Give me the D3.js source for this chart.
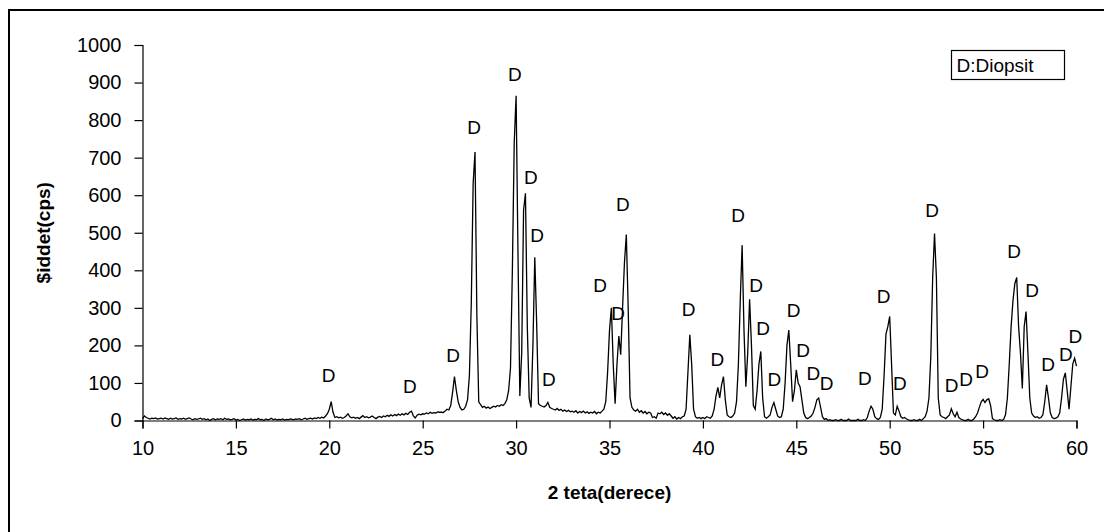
<!DOCTYPE html>
<html>
<head>
<meta charset="utf-8">
<script src="https://cdn.jsdelivr.net/npm/d3@7"></script>
<style>
  body { margin: 0; background: #fff; }
  svg text { font-family: "Liberation Sans", Arial, sans-serif; fill: #000; }
</style>
</head>
<body>
<svg id="chart" width="1104" height="532"></svg>
<script>
// XRD scan, 2theta step 0.1, counts per decade
const scanStep = 0.1;
const counts10 = [
  5, 12, 8, 6, 4, 6, 5, 7, 4, 5,
  6, 4, 7, 5, 3, 6, 4, 5, 7, 3,
  5, 4, 6, 3, 5, 7, 4, 2, 5, 3,
  4, 6, 3, 5, 2, 4, 0, 3, 5, 2,
  4, 3, 5, 2, 6, 3, 4, 2, 3, 5,
  1, 3, 0, 2, 4, 1, 3, 2, 4, 1,
  3, 2, 5, 2, 3, 0, 4, 2, 3, 6,
  2, 4, 1, 3, 2, 4, 1, 3, 2, 4,
  3, 2, 4, 3, 5, 2, 4, 6, 3, 5,
  6, 4, 7, 5, 8, 6, 9, 7, 12, 18
];
const counts20 = [
  30, 50, 22, 8, 10, 7, 9, 6, 8, 12,
  18, 10, 7, 9, 6, 8, 5, 9, 13, 8,
  10, 7, 9, 12, 8, 5, 9, 11, 8, 12,
  10, 14, 11, 15, 12, 16, 13, 17, 14, 18,
  15, 19, 16, 22, 25, 12, 7, 14, 17, 15,
  18, 17, 20, 18, 22, 19, 21, 20, 23, 22,
  22, 21, 25, 30, 28, 40, 75, 117, 80, 50,
  35, 28, 30, 38, 55, 120, 310, 630, 715, 280,
  50, 42, 35, 38, 33, 36, 32, 35, 38, 36,
  40, 38, 42, 40, 45, 55, 80, 140, 400, 740
];
const counts30 = [
  865, 450, 65, 180, 560, 605, 250, 60, 35, 200,
  435, 260, 45, 40, 38, 36, 40, 48, 35, 32,
  30, 28, 32, 27, 30, 25, 28, 24, 27, 23,
  25, 22, 26, 20, 24, 21, 25, 20, 23, 19,
  22, 20, 24, 18, 22, 20, 25, 30, 50, 130,
  240, 300, 150, 45, 150, 225, 175, 300, 420, 495,
  300, 60, 35, 28, 25, 30, 22, 26, 20, 24,
  18, 22, 20, 8, 10, 6, 20, 18, 22, 16,
  20, 14, 18, 12, 6, 10, 4, 8, 5, 10,
  12, 30, 130, 228, 150, 30, 10, 6, 8, 5
];
const counts40 = [
  8, 5, 10, 8, 6, 12, 30, 65, 88, 60,
  95, 117, 55, 15, 10, 8, 12, 20, 50, 150,
  320, 467, 240, 90, 180, 323, 200, 40, 30, 80,
  150, 184, 60, 10, 6, 10, 15, 35, 48, 30,
  12, 8, 10, 30, 100, 200, 241, 150, 50, 80,
  135, 100, 90, 55, 20, 8, 5, 8, 12, 20,
  35, 55, 60, 35, 10, 3, 5, 0, 2, 0,
  0, 2, 0, 0, 3, 0, 0, 0, 4, 0,
  0, 0, 0, 3, 0, 0, 2, 0, 8, 25,
  38, 30, 10, 5, 3, 8, 30, 120, 230, 250
];
const counts50 = [
  277, 150, 20, 15, 38, 25, 10, 6, 8, 4,
  2, 0, 0, 2, 0, 0, 3, 0, 5, 10,
  25, 60, 170, 380, 498, 380, 60, 15, 10, 8,
  5, 10, 15, 31, 18, 10, 22, 8, 4, 2,
  0, 0, 3, 0, 0, 4, 10, 20, 35, 50,
  56, 48, 55, 58, 40, 5, 2, 0, 0, 2,
  0, 3, 15, 60, 150, 250, 320, 365, 381, 250,
  180, 85, 250, 290, 180, 60, 20, 12, 8, 10,
  6, 8, 15, 50, 95, 60, 20, 8, 5, 6,
  10, 20, 60, 110, 127, 80, 30, 90, 150, 166,
  145
];

// "D" peak marks: 2theta and the level they sit at
const markTheta = [19.97, 24.31, 26.63, 27.75, 29.93, 30.79, 31.12, 31.75, 34.5, 35.46, 35.71,
  39.23, 40.78, 41.88, 42.85, 43.22, 43.83, 44.85, 45.37, 45.92, 46.62, 48.67, 49.67,
  50.54, 52.27, 53.31, 54.09, 54.95, 56.66, 57.62, 58.48, 59.43, 59.94];
const markLevel = [120, 91, 175, 781, 922, 648, 493, 111, 361, 286, 576,
  297, 164, 546, 361, 246, 109, 293, 186, 126, 100, 113, 330,
  100, 560, 95, 109, 131, 451, 347, 151, 177, 224];

const xTicks = [10, 15, 20, 25, 30, 35, 40, 45, 50, 55, 60];
const yTicks = [0, 100, 200, 300, 400, 500, 600, 700, 800, 900, 1000];

const legendText = "D:Diopsit";
const xTitle = "2 teta(derece)";
const yTitle = "$iddet(cps)";

const data = [];
[[10, counts10], [20, counts20], [30, counts30], [40, counts40], [50, counts50]].forEach(([start, arr]) => {
  arr.forEach((c, i) => data.push({theta: +(start + i * scanStep).toFixed(2), count: c}));
});

const svg = d3.select("#chart");
const plot = {left: 142.5, right: 1076.5, top: 45, bottom: 420.5};

let x = d3.scaleLinear().domain([10, 60]).range([plot.left, plot.right]);
let y = d3.scaleLinear().domain([0, 1000]).range([plot.bottom, plot.top]);

// outer chart frame (runs off the right and bottom edges)
svg.append("rect")
  .attr("x", 9).attr("y", 10)
  .attr("width", 1200).attr("height", 600)
  .attr("fill", "none").attr("stroke", "#000").attr("stroke-width", 2);

// axes
const yAxis = svg.append("g")
  .attr("transform", `translate(${plot.left},0)`)
  .call(d3.axisLeft(y).tickValues(yTicks).tickFormat(d3.format("d")).tickSize(8).tickPadding(13));
const xAxis = svg.append("g")
  .attr("transform", `translate(0,${plot.bottom})`)
  .call(d3.axisBottom(x).tickValues(xTicks).tickFormat(d3.format("d")).tickSize(8).tickPadding(12));

[xAxis, yAxis].forEach(g => {
  g.select(".domain").attr("stroke", "#000").attr("stroke-width", 1.2);
  g.selectAll(".tick line").attr("stroke", "#000").attr("stroke-width", 1.2);
  g.selectAll(".tick text")
    .style("font-family", '"Liberation Sans", Arial, sans-serif')
    .style("font-size", "20px")
    .attr("fill", "#000");
});

// the scan line
const line = d3.line()
  .x(d => x(d.theta))
  .y(d => y(d.count));

svg.append("path")
  .datum(data)
  .attr("d", line)
  .attr("fill", "none")
  .attr("stroke", "#000")
  .attr("stroke-width", 1.3);

// peak marks
svg.append("g").selectAll("text")
  .data(markTheta)
  .enter()
  .append("text")
  .attr("x", d => x(d))
  .attr("y", (d, i) => y(markLevel[i]))
  .attr("dy", "0.36em")
  .attr("text-anchor", "middle")
  .style("font-size", "19px")
  .text("D");

// axis titles
svg.append("text")
  .attr("x", (plot.left + plot.right) / 2)
  .attr("y", 499)
  .attr("text-anchor", "middle")
  .style("font-size", "19px")
  .style("font-weight", "bold")
  .text(xTitle);

svg.append("text")
  .attr("transform", `translate(50,${(plot.top + plot.bottom) / 2}) rotate(-90)`)
  .attr("text-anchor", "middle")
  .style("font-size", "19px")
  .style("font-weight", "bold")
  .text(yTitle);

// legend box
const legend = svg.append("g").attr("transform", "translate(951.5,50.5)");
legend.append("rect")
  .attr("width", 113).attr("height", 29)
  .attr("fill", "#fff").attr("stroke", "#000").attr("stroke-width", 1.2);
legend.append("text")
  .attr("x", 5).attr("y", 21)
  .style("font-size", "19px")
  .text(legendText);
</script>
</body>
</html>
